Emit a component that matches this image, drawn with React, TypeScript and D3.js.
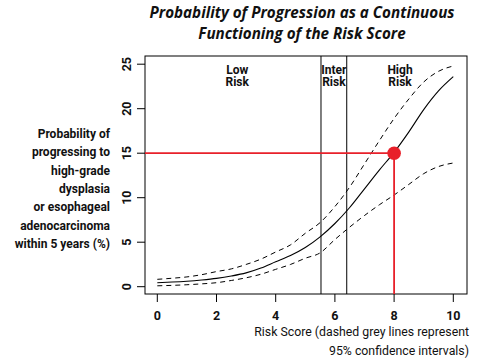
import React from "react";
import * as d3 from "d3";

const riskScores = [0, 0.5, 1, 1.5, 2, 2.5, 3, 3.5, 4, 4.5, 5, 5.5, 6, 6.5, 7, 7.5, 8, 8.5, 9, 9.5, 10];
const probEstimate = [0.45, 0.52, 0.62, 0.76, 0.94, 1.2, 1.55, 2.1, 2.8, 3.5, 4.4, 5.6, 7.1, 8.9, 11.0, 13.1, 15.1, 17.4, 19.9, 22.0, 23.6];
const probUpper = [0.83, 0.95, 1.1, 1.35, 1.7, 2.0, 2.5, 3.1, 3.9, 4.7, 6.0, 7.2, 9.0, 11.2, 13.8, 16.4, 18.9, 21.1, 23.0, 24.2, 24.8];
const probLower = [0.1, 0.15, 0.22, 0.32, 0.45, 0.7, 1.0, 1.4, 1.95, 2.5, 3.2, 3.8, 5.3, 6.7, 8.0, 9.2, 10.3, 11.5, 12.7, 13.5, 13.9];

const xTicks = [0, 2, 4, 6, 8, 10];
const yTicks = [0, 5, 10, 15, 20, 25];
const cutoffs = [5.53, 6.4];
const regionLabels = [
  { x: 2.7, lines: ["Low", "Risk"] },
  { x: 5.965, lines: ["Inter", "Risk"] },
  { x: 8.2, lines: ["High", "Risk"] },
];
const highlight = { x: 8, y: 15 };
const titleLines = ["Probability of Progression as a Continuous", "Functioning of the Risk Score"];
const yLabelLines = ["Probability of", "progressing to", "high-grade", "dysplasia", "or esophageal", "adenocarcinoma", "within 5 years (%)"];
const xLabelLines = ["Risk Score (dashed grey lines represent", "95% confidence intervals)"];

const W = 483;
const H = 358;
const box = { left: 145, right: 467, top: 56, bottom: 294 };
const RED = "#e8202a";
const narrow = "Roboto, 'Liberation Sans', sans-serif";

export default function App() {
  const x = d3.scaleLinear().domain([0, 10]).range([157.3, 453.3]);
  const y = d3.scaleLinear().domain([0, 25]).range([286.7, 64.2]);

  const mk = (vals: number[]) =>
    d3
      .line<number>()
      .x((_, i) => x(riskScores[i]))
      .y((v) => y(v))
      .curve(d3.curveMonotoneX)(vals) || "";

  return (
    <svg
      width={W}
      height={H}
      style={{ position: "absolute", left: 0, top: 0, background: "#fff" }}
    >
      {/* Title */}
      {titleLines.map((t, i) => (
        <text
          key={i}
          x={302}
          y={18 + i * 20.5}
          textAnchor="middle"
          fontFamily="'Open Sans', 'Liberation Sans', sans-serif"
          fontWeight="bold"
          fontStyle="italic"
          fontSize={15.2}
          fill="#111"
        >
          {t}
        </text>
      ))}

      {/* Box */}
      <rect
        x={box.left}
        y={box.top}
        width={box.right - box.left}
        height={box.bottom - box.top}
        fill="none"
        stroke="#000"
        strokeWidth={1}
      />

      {/* cutoff lines */}
      {cutoffs.map((c, i) => (
        <line key={i} x1={x(c)} x2={x(c)} y1={box.top} y2={box.bottom} stroke="#000" strokeWidth={1} />
      ))}

      {/* region labels */}
      {regionLabels.map((r, i) => (
        <g key={i}>
          {r.lines.map((l, j) => (
            <text
              key={j}
              x={x(r.x)}
              y={73.5 + j * 12.5}
              textAnchor="middle"
              fontFamily={narrow}
              fontWeight="bold"
              fontSize={12}
              fill="#111"
            >
              {l}
            </text>
          ))}
        </g>
      ))}

      {/* curves */}
      <path d={mk(probUpper)} fill="none" stroke="#000" strokeWidth={1} strokeDasharray="5,4" />
      <path d={mk(probLower)} fill="none" stroke="#000" strokeWidth={1} strokeDasharray="5,4" />
      <path d={mk(probEstimate)} fill="none" stroke="#000" strokeWidth={1.1} />

      {/* highlight */}
      <line x1={box.left} x2={x(highlight.x)} y1={y(highlight.y)} y2={y(highlight.y)} stroke={RED} strokeWidth={1.8} />
      <line x1={x(highlight.x)} x2={x(highlight.x)} y1={y(highlight.y)} y2={box.bottom} stroke={RED} strokeWidth={1.8} />
      <circle cx={x(highlight.x)} cy={y(highlight.y)} r={6.8} fill={RED} />

      {/* x axis */}
      {xTicks.map((t) => (
        <g key={t}>
          <line x1={x(t)} x2={x(t)} y1={box.bottom} y2={box.bottom + 8} stroke="#000" strokeWidth={1} />
          <text
            x={x(t)}
            y={320}
            textAnchor="middle"
            fontFamily={narrow}
            fontWeight="bold"
            fontSize={12.5}
            fill="#111"
          >
            {t}
          </text>
        </g>
      ))}
      {xLabelLines.map((t, i) => (
        <text
          key={i}
          x={469}
          y={336 + i * 18.5}
          textAnchor="end"
          fontFamily={narrow}
          fontSize={12.3}
          fill="#111"
        >
          {t}
        </text>
      ))}

      {/* y axis */}
      {yTicks.map((t) => (
        <g key={t}>
          <line x1={box.left - 8} x2={box.left} y1={y(t)} y2={y(t)} stroke="#000" strokeWidth={1} />
          <text
            transform={`translate(131,${y(t)}) rotate(-90)`}
            textAnchor="middle"
            fontFamily={narrow}
            fontWeight="bold"
            fontSize={12.5}
            fill="#111"
          >
            {t}
          </text>
        </g>
      ))}
      {yLabelLines.map((t, i) => (
        <text
          key={i}
          x={110}
          y={138 + i * 18.3}
          textAnchor="end"
          fontFamily={narrow}
          fontWeight="bold"
          fontSize={12}
          fill="#111"
        >
          {t}
        </text>
      ))}
    </svg>
  );
}
